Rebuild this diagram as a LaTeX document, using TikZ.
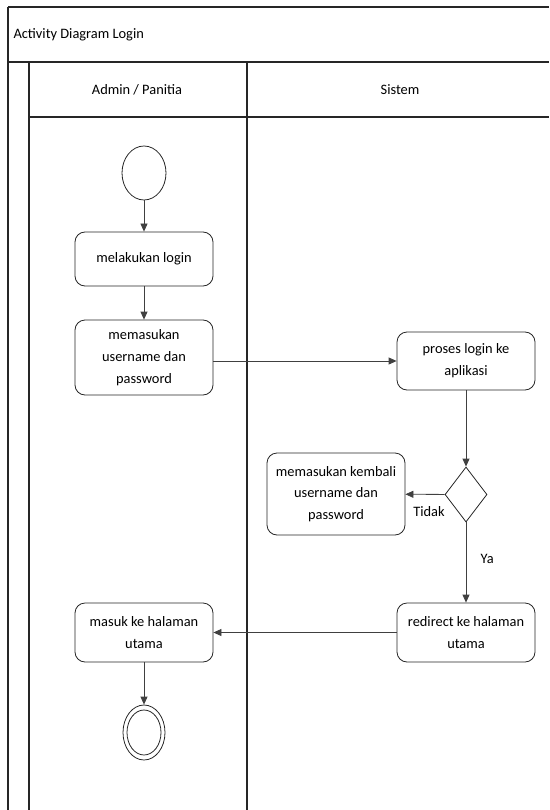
\documentclass[tikz,border=0pt]{standalone}
\usepackage{fontspec}
\setmainfont{Carlito}
\usetikzlibrary{shapes,arrows.meta,positioning,calc}

\begin{document}
\begin{tikzpicture}[
    x=1pt, y=-1pt,
    font=\fontsize{14.4}{21.7}\selectfont,
    frame/.style={line width=1.1pt, draw=black!85},
    action/.style={rectangle, draw=black!85, line width=0.8pt, rounded corners=10pt, align=center, minimum width=138pt, inner sep=2pt},
    initial/.style={ellipse, draw=black!85, line width=0.8pt, minimum width=44pt, minimum height=54pt, inner sep=0pt},
    final/.style={ellipse, draw=black!85, line width=0.8pt, inner sep=0pt},
    decision/.style={diamond, draw=black!85, line width=0.8pt, minimum width=42pt, minimum height=55pt, inner sep=0pt},
    arrow/.style={line width=0.8pt, draw=black!75, -{Triangle[length=8pt,width=7pt]}}
]
\useasboundingbox (0,0) rectangle (549,810);

\draw [frame] (8,7) -- (549,7);
\draw [frame] (8,7) -- (8,810);
\draw [frame] (8,62) -- (549,62);
\draw [frame] (29,62) -- (29,810);
\draw [frame] (29,117) -- (549,117);
\draw [frame] (247,62) -- (247,810);

\node [anchor=west] (judul) at (10,35) {Activity Diagram Login};
\node (admin) at (137,90) {Admin / Panitia};
\node (sistem) at (400,90) {Sistem};

\node [initial] (mulai) at (144,173) {};
\node [action, minimum height=54pt] (login) at (144,259) {melakukan login};
\node [action, minimum height=75pt] (input) at (144,357.5) {memasukan\\username dan\\password};
\node [action, minimum height=58pt] (proses) at (466,361) {proses login ke\\aplikasi};
\node [decision] (cek) at (466,494.5) {};
\node [action, minimum height=82pt] (ulang) at (336,494) {memasukan kembali\\username dan\\password};
\node [action, minimum height=59pt] (redirect) at (466,632.5) {redirect ke halaman\\utama};
\node [action, minimum height=59pt] (masuk) at (144,632.5) {masuk ke halaman\\utama};
\node [final, minimum width=42pt, minimum height=55pt] (selesai) at (144,732.5) {};
\node [final, minimum width=34pt, minimum height=45pt] (selesai2) at (selesai.center) {};

\draw [arrow] (mulai) -- (login);
\draw [arrow] (login) -- (input);
\draw [arrow] (input.east |- proses) -- (proses);
\draw [arrow] (proses) -- (cek);
\draw [arrow] (cek) -- node [pos=0.4, below=8pt] (tidak) {Tidak} (ulang);
\draw [arrow] (cek) -- node [pos=0.45, right=11pt] (ya) {Ya} (redirect);
\draw [arrow] (redirect) -- (masuk);
\draw [arrow] (masuk) -- (selesai);

\end{tikzpicture}
\end{document}
